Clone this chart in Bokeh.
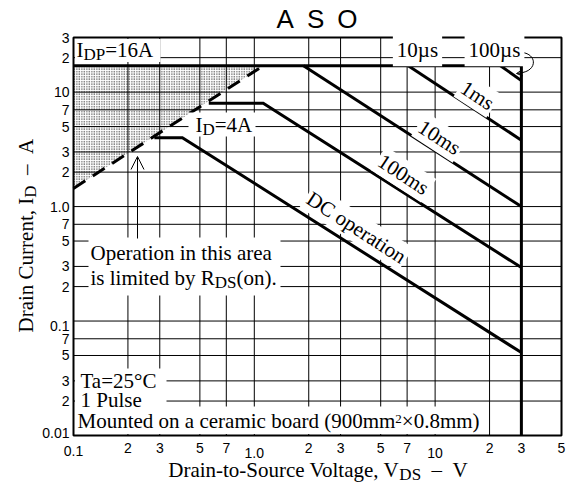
import math
from bokeh.plotting import figure
from bokeh.models import Range1d, Label, BoxAnnotation, Arrow, OpenHead
from bokeh.core.properties import value
from bokeh.embed import file_html
from bokeh.resources import INLINE

# ---------------- data ----------------
v_range = [0.1, 50]
i_range = [0.01, 30]
x_ticks = [0.1, 0.2, 0.3, 0.5, 0.7, 1, 2, 3, 5, 7, 10, 20, 30, 50]
x_tick_labels = ["0.1", "2", "3", "5", "7", "1.0", "2", "3", "5", "7", "10", "2", "3", "5"]
y_ticks = [0.01, 0.02, 0.03, 0.05, 0.07, 0.1, 0.2, 0.3, 0.5, 0.7, 1, 2, 3, 5, 7, 10, 20, 30]
y_tick_labels = ["0.01", "2", "3", "5", "7", "0.1", "2", "3", "5", "7", "1.0",
                 "2", "3", "5", "7", "10", "2", "3"]

idp_v = [0.1, 30]
idp_i = [17, 17]
vdss_v = [30, 30]
vdss_i = [17, 0.01]
rds_v = [0.1, 1.12]
rds_i = [1.44, 17]
dc_v = [0.28, 0.40, 30]
dc_i = [4.0, 4.0, 0.053]
ms100_v = [0.56, 1.12, 30]
ms100_i = [8.0, 8.0, 0.293]
ms10_v = [1.87, 30]
ms10_i = [17, 1.0]
ms1_v = [7.1, 30]
ms1_i = [17, 3.8]
us100_v = [23, 30]
us100_i = [17, 12.6]

# ---------------- layout ----------------
W, H = 577, 486
L, R, T, B = 73, 561, 37, 435          # chart box in canvas pixels
lx0, lx1 = math.log10(v_range[0]), math.log10(v_range[1])
ly0, ly1 = math.log10(i_range[0]), math.log10(i_range[1])
dx = (lx1 - lx0) / (R - L)
dy = (ly1 - ly0) / (B - T)
xr = Range1d(10 ** (lx0 - L * dx), 10 ** (lx1 + (W - R) * dx))
yr = Range1d(10 ** (ly0 - (H - B) * dy), 10 ** (ly1 + T * dy))

p = figure(width=W, height=H, x_axis_type="log", y_axis_type="log", title=None,
           x_range=xr, y_range=yr, x_axis_location=None, y_axis_location=None,
           output_backend="svg", toolbar_location=None,
           min_border=0, min_border_left=0, min_border_right=0,
           min_border_top=0, min_border_bottom=0)
p.background_fill_color = "white"
p.border_fill_color = "white"
p.outline_line_color = None
p.grid.visible = False

SERIF = "Liberation Serif"
SANS = "Liberation Sans"
MID = 0.34   # offset (em) from alphabetic baseline to visual middle

# ---------------- grid, tick labels ----------------
nx, ny = len(x_ticks), len(y_ticks)
p.segment(x0=x_ticks, y0=[i_range[0]] * nx, x1=x_ticks, y1=[i_range[1]] * nx,
          line_color="black", line_width=1)
p.segment(x0=[v_range[0]] * ny, y0=y_ticks, x1=[v_range[1]] * ny, y1=y_ticks,
          line_color="black", line_width=1)

x_off = [12 if len(t) == 1 else (15 if k == 0 else 17) for k, t in enumerate(x_tick_labels)]
p.text(x=x_ticks, y=[i_range[0]] * nx, text=x_tick_labels, y_offset=x_off,
       text_font=value(SANS), text_font_size="14px", text_color="black",
       text_align="center", text_baseline="middle")
y_off = [-3 if k == 0 else (5 if t == "0.1" else 0) for k, t in enumerate(y_tick_labels)]
p.text(x=[v_range[0]] * ny, y=y_ticks, text=y_tick_labels, x_offset=-4, y_offset=y_off,
       text_font=value(SANS), text_font_size="14px", text_color="black",
       text_align="right", text_baseline="middle")

# ---------------- curves ----------------
p.patch([rds_v[0], rds_v[1], rds_v[0]], [rds_i[0], rds_i[1], rds_i[1]],
        fill_color=None, line_color=None, hatch_pattern="dot",
        hatch_color="black", hatch_scale=2.5, hatch_weight=1.5, hatch_alpha=1.0)

for vv, ii in [(idp_v, idp_i), (vdss_v, vdss_i), (dc_v, dc_i), (ms100_v, ms100_i),
               (ms10_v, ms10_i), (ms1_v, ms1_i), (us100_v, us100_i)]:
    p.line(vv, ii, line_width=3, line_color="black", line_join="miter")
p.line(rds_v, rds_i, line_width=3, line_color="black", line_dash="14 9")

# ---------------- annotations ----------------
def d(px, py):
    """canvas pixel -> data coordinates"""
    return 10 ** (lx0 + (px - L) * dx), 10 ** (ly0 + (B - py) * dy)

def box(px0, py0, px1, py1):
    x0, y1 = d(px0, py0)
    x1, y0 = d(px1, py1)
    p.add_layout(BoxAnnotation(left=x0, right=x1, bottom=y0, top=y1,
                               fill_color="white", fill_alpha=1.0,
                               line_color=None))

def label(text, px, py, size=21, font=SERIF, align="left", angle=0.0,
          on_baseline=True, bg=None, pad=0):
    """(px, py) is a point on the alphabetic baseline unless on_baseline=False"""
    if on_baseline:
        px -= MID * size * math.sin(angle)
        py -= MID * size * math.cos(angle)
    x, y = d(px, py)
    p.add_layout(Label(x=x, y=y, text=text, text_font=font,
                       text_font_size=f"{size}px", text_color="black",
                       text_align=align, text_baseline="middle", angle=angle,
                       background_fill_color=bg,
                       background_fill_alpha=1.0 if bg else 0.0, padding=pad))

TW = {" ": .25, "(": .333, ")": .333, ",": .25, "-": .333, ".": .25, "=": .564,
      "°": .4, "×": .564, "–": .5, "µ": .5, "\u2002": .5,
      "A": .722, "C": .667, "D": .722, "I": .333, "M": .889, "O": .722, "P": .556,
      "R": .667, "S": .556, "T": .611, "V": .722,
      "a": .444, "b": .5, "c": .444, "d": .5, "e": .444, "g": .5, "h": .5, "i": .278,
      "l": .278, "m": .778, "n": .5, "o": .5, "p": .5, "r": .333, "s": .389, "t": .278,
      "u": .5, "y": .5}
for ch in "0123456789":
    TW[ch] = .5

def tw(s, size):
    return sum(TW.get(c, .5) for c in s) * size

def rich(parts, px, py, size=21, vertical=False):
    """text with sub/superscripts; a normal piece followed by a script is
    right-aligned to the junction so that kerning does not open gaps"""
    sizes, shifts = [], []
    for text, kind in parts:
        if kind == "n":
            sizes.append(size); shifts.append(0.0)
        elif kind == "sub":
            sizes.append(round(size * 0.8)); shifts.append(2.5)
        else:
            sizes.append(round(size * 0.62)); shifts.append(-5.5)
    starts = [0.0]
    for (text, _), s in zip(parts, sizes):
        starts.append(starts[-1] + tw(text, s))
    for k, (text, kind) in enumerate(parts):
        right = kind == "n" and k + 1 < len(parts) and parts[k + 1][1] != "n"
        pos = starts[k + 1] if right else starts[k]
        align = "right" if right else "left"
        if vertical:
            label(text, px + shifts[k], py - pos, sizes[k], align=align, angle=math.pi / 2)
        else:
            label(text, px + pos, py + shifts[k], sizes[k], align=align)

# white masks behind text blocks
box(74.5, 38.5, 160, 61.5)        # IDP label
box(188, 112, 255, 136)           # ID=4A
box(88, 237, 280, 295)            # Operation ... box
box(74.5, 368, 166, 433.5)        # Ta / 1 Pulse
box(74.5, 406, 478, 433.5)        # Mounted ...

# frame outline
p.quad(left=[v_range[0]], right=[v_range[1]], bottom=[i_range[0]], top=[i_range[1]],
       fill_color=None, line_color="black", line_width=2)

# title
label("A\u2002S\u2002O", 316.5, 27, size=26, font=SANS, align="center")

# in-plot texts
rich([("I", "n"), ("DP", "sub"), ("=16A", "n")], 76, 57)
rich([("I", "n"), ("D", "sub"), ("=4A", "n")], 195, 132)
label("10µs", 417, 57, align="center", bg="white", pad=4)
label("100µs", 494, 57, align="center", bg="white", pad=4)

ang = -math.radians(33)
label("1ms", 477, 95, align="center", angle=ang, on_baseline=False, bg="white", pad=2)
label("10ms", 439, 137, align="center", angle=ang, on_baseline=False, bg="white", pad=2)
label("100ms", 403, 174, align="center", angle=ang, on_baseline=False, bg="white", pad=2)
label("DC operation", 356, 227, align="center", angle=ang, on_baseline=False,
      bg="white", pad=2)

label("Operation in this area", 90, 260)
rich([("is limited by R", "n"), ("DS", "sub"), ("(on).", "n")], 90, 285)

label("Ta=25°C", 80, 388)
label("1 Pulse", 80, 407)
rich([("Mounted on a ceramic board (900mm", "n"), ("2", "sup"), ("×0.8mm)", "n")], 77, 428)

# arrow to the dashed RDS(on) line
ax0, ay0 = d(137, 238)
ax1, ay1 = d(137, 156)
p.add_layout(Arrow(end=OpenHead(size=13, line_width=1, line_color="black"),
                   x_start=ax0, y_start=ay0, x_end=ax1, y_end=ay1,
                   line_width=1, line_color="black"))

# curved pointer from "100µs" to its line
b0 = d(522, 52); bc0 = d(537, 54); bc1 = d(537, 71); b1 = d(519, 72.5)
p.bezier(x0=[b0[0]], y0=[b0[1]], x1=[b1[0]], y1=[b1[1]],
         cx0=[bc0[0]], cy0=[bc0[1]], cx1=[bc1[0]], cy1=[bc1[1]],
         line_width=1, line_color="black")
h0 = d(521, 72.5); h1 = d(516, 73)
p.add_layout(Arrow(end=OpenHead(size=6, line_width=1, line_color="black"),
                   x_start=h0[0], y_start=h0[1], x_end=h1[0], y_end=h1[1],
                   line_width=1, line_color="black"))

# axis titles
rich([("Drain-to-Source Voltage, V", "n"), ("DS", "sub"), ("\u2002–\u2002V", "n")], 165, 477)
rich([("Drain Current, I", "n"), ("D", "sub"), ("\u2002–\u2002A", "n")], 33, 332, vertical=True)

open("out.html", "w").write(file_html(p, INLINE))
